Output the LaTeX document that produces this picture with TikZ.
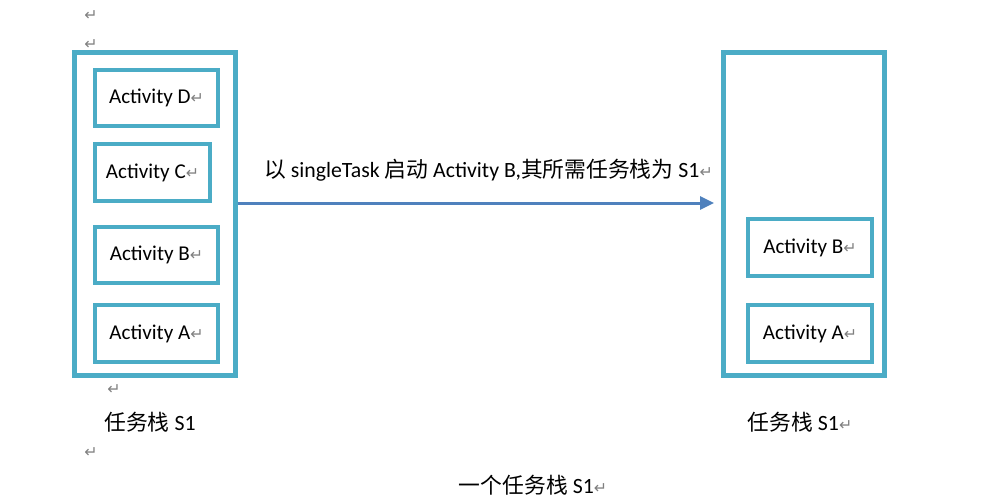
\documentclass[tikz,border=0pt]{standalone}
\usepackage{fontspec}
\setmainfont{Carlito}
\newfontfamily\cjk{Noto Sans CJK SC}
\newfontfamily\symb{DejaVu Sans}
\usepackage{tikz}
\usetikzlibrary{arrows.meta}
\definecolor{framecol}{RGB}{75,172,198}
\definecolor{arrowcol}{RGB}{79,129,189}
\newcommand{\ret}{{\color{gray}\fontsize{9}{9}\symb ↵}}
\tikzset{
    stack/.style={draw=framecol, line width=0.1cm, minimum width=3.22cm, minimum height=6.46cm, inner sep=0pt},
    act/.style={draw=framecol, line width=0.08cm, minimum width=2.46cm, minimum height=1.14cm, inner sep=0pt, font=\fontsize{12}{14}\selectfont},
    lbl/.style={font=\fontsize{12.4}{14}\selectfont, inner sep=1pt},
    parmark/.style={inner sep=0pt}
}

\begin{document}
\begin{tikzpicture}[x=0.02cm, y=-0.02cm]
    \useasboundingbox (0,0) rectangle (1002,501);

    % paragraph marks
    \node[parmark] (m1) at (91,16) {\ret};
    \node[parmark] (m2) at (91,45) {\ret};
    \node[parmark] (m3) at (114,390) {\ret};
    \node[parmark] (m4) at (91,453) {\ret};

    % left stack
    \node[stack] (left) at (155,214) {};
    \node[act] (lD) at (156.5,98) {Activity D\ret};
    \node[act, minimum width=2.3cm] (lC) at (152.5,172.5) {Activity C\ret};
    \node[act] (lB) at (156.5,255) {Activity B\ret};
    \node[act] (lA) at (156.5,333.5) {Activity A\ret};
    \node[lbl] (leftname) at (150,422) {{\cjk 任务栈} S1};

    % right stack
    \node[stack] (right) at (804,214) {};
    \node[act, minimum width=2.48cm] (rB) at (810,247.5) {Activity B\ret};
    \node[act, minimum width=2.48cm] (rA) at (810,333.5) {Activity A\ret};
    \node[lbl] (rightname) at (800,422) {{\cjk 任务栈} S1\ret};

    % transition
    \draw[arrowcol, line width=0.06cm, -{Triangle[length=0.28cm, width=0.26cm]}, shorten >=0.14cm]
        ([yshift=0.22cm]left.east) -- ([yshift=0.22cm]right.west)
        node[lbl, midway, above=0.38cm, xshift=0.18cm, black] (how) {{\cjk 以} singleTask {\cjk 启动} Activity B,{\cjk 其所需任务栈为} S1\ret};

    \node[lbl] (caption) at (533,485) {{\cjk 一个任务栈} S1\ret};
\end{tikzpicture}
\end{document}
